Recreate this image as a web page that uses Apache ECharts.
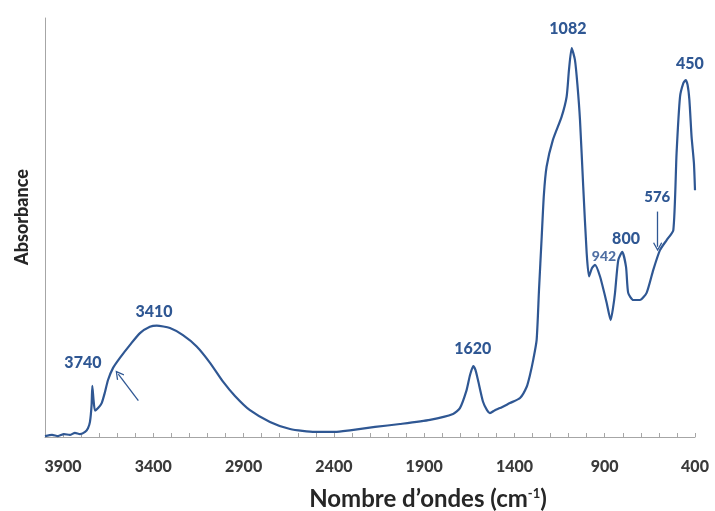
<!DOCTYPE html>
<html>
<head>
<meta charset="utf-8">
<script src="https://cdn.jsdelivr.net/npm/echarts@6/dist/echarts.min.js"></script>
<style>html,body{margin:0;padding:0;background:#fff}#c{width:715px;height:511px}</style>
</head>
<body>
<div id="c"></div>
<script>
// Wavenumbers (cm-1) and absorbance (a.u., 0-1)
var wavenumbers = [4000,3961,3928,3895,3862,3834,3806,3778,3762,3751,3742,3738,3731,3723,3706,3686,3668,3651,3623,3585,3529,3474,3419,3381,3308,3236,3160,3086,3014,2948,2865,2754,2643,2505,2394,2311,2172,2034,1868,1740,1702,1665,1646,1628,1616,1602,1574,1552,1536,1508,1480,1425,1369,1332,1314,1296,1277,1264,1249,1237,1222,1187,1139,1111,1098,1083,1065,1051,1037,1019,1000,987,971,954,926,889,867,854,843,825,803,782,770,742,705,668,631,594,557,520,502,483,465,452,441,431,419,406,400];
var absorbance = [0.002,0.005,0.002,0.007,0.005,0.010,0.007,0.012,0.021,0.036,0.076,0.122,0.088,0.063,0.069,0.081,0.107,0.136,0.165,0.189,0.220,0.248,0.263,0.266,0.260,0.243,0.216,0.177,0.132,0.098,0.064,0.036,0.019,0.012,0.012,0.016,0.024,0.031,0.041,0.055,0.069,0.112,0.148,0.169,0.160,0.136,0.084,0.064,0.057,0.064,0.069,0.081,0.093,0.120,0.148,0.184,0.232,0.351,0.478,0.578,0.645,0.709,0.764,0.812,0.876,0.928,0.900,0.840,0.757,0.597,0.439,0.383,0.403,0.411,0.383,0.320,0.279,0.308,0.344,0.422,0.442,0.406,0.344,0.327,0.327,0.344,0.399,0.446,0.470,0.494,0.678,0.812,0.844,0.852,0.840,0.804,0.717,0.654,0.589];

// Peak annotations: label, wavenumber and absorbance where the label sits
var peakLabels = ['3740','3410','1620','1082','942','800','576','450'];
var peakLabelX = [3790,3396,1631,1104,904,782,609,428];
var peakLabelY = [0.176,0.298,0.210,0.974,0.430,0.473,0.573,0.890];
var peakLabelSize = [16,16,16,16,14,16,15,16];

// Arrows: [tail wavenumber, tail absorbance, head wavenumber, head absorbance]
var arrows = [[3483,0.087,3594,0.150],[607,0.538,607,0.454]];

var tickLabels = [400,900,1400,1900,2400,2900,3400,3900];

var blue = '#2f5793';
var chart = echarts.init(document.getElementById('c'), null, {renderer:'canvas'});
var data = wavenumbers.map(function(w,i){return [w, absorbance[i]];});

var markPts = peakLabels.map(function(t,i){
  return {
    name: t, coord: [peakLabelX[i], peakLabelY[i]],
    label: {fontSize: peakLabelSize[i], color: t === '942' ? '#4f6fa3' : blue}
  };
});
var markLns = arrows.map(function(a){
  return [{coord:[a[0],a[1]]},{coord:[a[2],a[3]]}];
});

chart.setOption({
  animation: false,
  backgroundColor: '#fff',
  grid: {left: 45, right: 20, top: 18, bottom: 74},
  xAxis: {
    type: 'value', inverse: true, min: 400, max: 4000, interval: 100,
    axisLine: {show: true, lineStyle: {color: '#a6a6a6', width: 1}},
    axisTick: {show: true, inside: true, length: 4, lineStyle: {color: '#a6a6a6'}},
    splitLine: {show: false},
    axisLabel: {
      margin: 22, fontFamily: 'Lato', fontWeight: 900, fontSize: 16, color: '#3a3a3a',
      formatter: function(v){ return tickLabels.indexOf(v) >= 0 ? String(v) : ''; }
    }
  },
  yAxis: {
    type: 'value', min: 0, max: 1,
    axisLine: {show: true, lineStyle: {color: '#a6a6a6', width: 1}},
    axisTick: {show: false}, axisLabel: {show: false}, splitLine: {show: false}
  },
  graphic: [
    {type: 'text', x: 428, y: 499,
     style: {text: '{a|Nombre d\u2019ondes (cm}{s|-1}{a|)}', align: 'center', verticalAlign: 'middle', fill: '#262626',
       rich: {a: {fontFamily: 'Lato', fontWeight: 'bold', fontSize: 24, fill: '#262626'},
              s: {fontFamily: 'Lato', fontWeight: 'bold', fontSize: 13, fill: '#262626', verticalAlign: 'top', padding:[0,0,11,0]}}}},
    {type: 'text', x: 22, y: 217, rotation: Math.PI/2,
     style: {text: 'Absorbance', fontFamily: 'Lato', fontWeight: 900, fontSize: 18, fill: '#262626', align: 'center', verticalAlign: 'middle'}}
  ],
  series: [{
    type: 'line', data: data, showSymbol: false, smooth: 0.2,
    lineStyle: {color: blue, width: 2.2, join: 'round'},
    markPoint: {
      symbol: 'circle', symbolSize: 0,
      label: {show: true, position: 'inside', formatter: '{b}', fontFamily: 'Lato', fontWeight: 900, color: blue},
      data: markPts
    },
    markLine: {
      silent: true,
      symbol: ['none', 'path://M5,0 L10,8 L9,9 L5,2.6 L1,9 L0,8 Z'],
      symbolSize: [9, 9],
      label: {show: false},
      lineStyle: {color: blue, width: 1.3, type: 'solid'},
      data: markLns
    }
  }]
});
</script>
</body>
</html>
